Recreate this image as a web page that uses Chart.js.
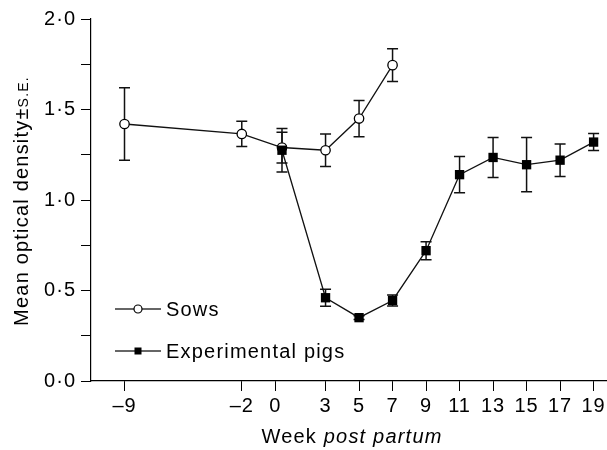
<!DOCTYPE html>
<html><head><meta charset="utf-8">
<script src="https://cdn.jsdelivr.net/npm/chart.js@4/dist/chart.umd.min.js"></script>
<style>html,body{margin:0;padding:0;background:#fff}#wrap{width:607px;height:450px;position:relative}</style>
</head><body><div id="wrap"><canvas id="c" width="607" height="450"></canvas></div>
<script>
const xTickValues = [-9, -2, 0, 3, 5, 7, 9, 11, 13, 15, 17, 19];
const sowsWeeks = [-9, -2, 0.4, 3, 5, 7];
const sowsMean = [1.42, 1.365, 1.29, 1.275, 1.45, 1.745];
const sowsSE = [0.20, 0.07, 0.085, 0.09, 0.10, 0.09];
const pigsWeeks = [0.4, 3, 5, 7, 9, 11, 13, 15, 17, 19];
const pigsMean = [1.275, 0.46, 0.35, 0.445, 0.72, 1.14, 1.235, 1.195, 1.22, 1.32];
const pigsSE = [0.12, 0.047, 0.01, 0.03, 0.05, 0.10, 0.11, 0.15, 0.09, 0.047];
const seriesNames = ['Sows', 'Experimental pigs'];
const yTitleParts = ['Mean optical density', '±', 'S.E.'];
const xTitleParts = ['Week ', 'post partum'];

const FONT = '"Liberation Sans", Arial, Helvetica, sans-serif';
const INK = '#111';

function toPoints(xs, ys) { return xs.map((x, i) => ({ x: x, y: ys[i] })); }

const extras = {
  id: 'extras',
  beforeDraw(chart) { chart.ctx.letterSpacing = '1px'; },
  beforeDatasetsDraw(chart) {
    const ctx = chart.ctx, xs = chart.scales.x, ys = chart.scales.y;
    ctx.save();
    ctx.strokeStyle = INK; ctx.lineWidth = 1.5;
    chart.data.datasets.forEach(ds => {
      ds.data.forEach((p, i) => {
        const se = ds.se[i];
        const px = xs.getPixelForValue(p.x);
        const top = ys.getPixelForValue(p.y + se), bot = ys.getPixelForValue(p.y - se);
        ctx.beginPath();
        ctx.moveTo(px, top); ctx.lineTo(px, bot);
        ctx.moveTo(px - 5.5, top); ctx.lineTo(px + 5.5, top);
        ctx.moveTo(px - 5.5, bot); ctx.lineTo(px + 5.5, bot);
        ctx.stroke();
      });
    });
    ctx.restore();
  },
  afterDraw(chart) {
    const ctx = chart.ctx;
    ctx.save();
    ctx.fillStyle = '#000';
    ctx.letterSpacing = '1.2px';
    ctx.textBaseline = 'alphabetic';
    ctx.textAlign = 'left';
    const rows = [
      { y: 309, name: seriesNames[0], style: 'circle' },
      { y: 351, name: seriesNames[1], style: 'rect' }
    ];
    rows.forEach(r => {
      ctx.strokeStyle = '#333'; ctx.lineWidth = 1.3;
      ctx.beginPath(); ctx.moveTo(115, r.y); ctx.lineTo(161, r.y); ctx.stroke();
      if (r.style === 'circle') {
        ctx.beginPath(); ctx.arc(138, r.y, 4, 0, Math.PI * 2);
        ctx.fillStyle = '#fff'; ctx.fill(); ctx.strokeStyle = '#000'; ctx.lineWidth = 1.2; ctx.stroke();
      } else {
        ctx.fillStyle = '#000'; ctx.fillRect(134.5, r.y - 3.5, 7, 7);
      }
      ctx.fillStyle = '#000';
      ctx.font = '20px ' + FONT;
      ctx.fillText(r.name, 166, r.y + 7);
    });
    ctx.font = '20px ' + FONT;
    const w1 = ctx.measureText(xTitleParts[0]).width;
    ctx.font = 'italic 20px ' + FONT;
    const w2 = ctx.measureText(xTitleParts[1]).width;
    let sx = 352 - (w1 + w2) / 2;
    ctx.font = '20px ' + FONT; ctx.fillText(xTitleParts[0], sx, 443);
    ctx.font = 'italic 20px ' + FONT; ctx.fillText(xTitleParts[1], sx + w1, 443);
    ctx.translate(28, 201);
    ctx.rotate(-Math.PI / 2);
    ctx.font = '20px ' + FONT;
    const a = ctx.measureText(yTitleParts[0]).width;
    const b = ctx.measureText(yTitleParts[1]).width;
    ctx.font = '14px ' + FONT;
    const c = ctx.measureText(yTitleParts[2]).width;
    let sy = -(a + b + c) / 2;
    ctx.font = '20px ' + FONT;
    ctx.fillText(yTitleParts[0], sy, 0);
    ctx.fillText(yTitleParts[1], sy + a, 0);
    ctx.font = '14px ' + FONT;
    ctx.fillText(yTitleParts[2], sy + a + b, 0);
    ctx.restore();
  }
};

new Chart(document.getElementById('c'), {
  type: 'scatter',
  data: {
    datasets: [
      {
        label: seriesNames[1], data: toPoints(pigsWeeks, pigsMean), se: pigsSE,
        showLine: true, borderColor: INK, borderWidth: 1.3,
        pointStyle: 'rect', pointRadius: 6.6, pointBackgroundColor: '#000', pointBorderColor: '#000', pointBorderWidth: 0
      },
      {
        label: seriesNames[0], data: toPoints(sowsWeeks, sowsMean), se: sowsSE,
        showLine: true, borderColor: INK, borderWidth: 1.3,
        pointStyle: 'circle', pointRadius: 4.7, pointBackgroundColor: '#fff', pointBorderColor: '#000', pointBorderWidth: 1.3
      }
    ]
  },
  options: {
    responsive: false, animation: false, devicePixelRatio: 1,
    layout: { autoPadding: false, padding: { top: 19, left: 0, right: 0, bottom: 0 } },
    plugins: { legend: { display: false }, tooltip: { enabled: false } },
    scales: {
      x: {
        type: 'linear', min: -11, max: 19.8,
        afterBuildTicks: s => { s.ticks = xTickValues.map(v => ({ value: v })); },
        afterFit: s => { s.height = 69; s.paddingLeft = 0; s.paddingRight = 0; },
        ticks: {
          autoSkip: false, maxRotation: 0, color: '#000', padding: 3,
          font: { family: FONT, size: 20 },
          callback: v => v < 0 ? '–' + Math.abs(v) : String(v)
        },
        grid: { drawOnChartArea: false, drawTicks: true, tickLength: 10, color: '#000', lineWidth: 1 },
        border: { display: true, color: '#000', width: 1.2 }
      },
      y: {
        min: 0, max: 2,
        afterFit: s => { s.width = 91; s.paddingTop = 0; s.paddingBottom = 0; },
        ticks: {
          stepSize: 0.25, color: '#000', padding: 5,
          font: { family: FONT, size: 20 },
          callback: v => Math.abs(v * 2 - Math.round(v * 2)) < 1e-6 ? v.toFixed(1).replace('.', '·') : ''
        },
        grid: { drawOnChartArea: false, drawTicks: true, tickLength: 10, color: '#000', lineWidth: 1 },
        border: { display: true, color: '#000', width: 1.2 }
      }
    }
  },
  plugins: [extras]
});
</script></body></html>
